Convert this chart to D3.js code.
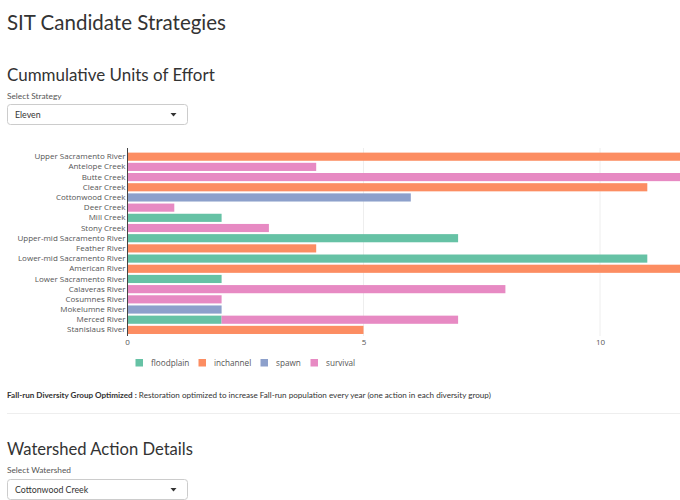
<!DOCTYPE html>
<html><head><meta charset="utf-8">
<script src="https://cdn.jsdelivr.net/npm/d3@7"></script>
<style>
body{margin:0;background:#fff;overflow:hidden}
svg{display:block}
</style></head>
<body>
<svg id="c" width="680" height="500"></svg>
<script>
const watersheds = ["Upper Sacramento River","Antelope Creek","Butte Creek","Clear Creek","Cottonwood Creek","Deer Creek","Mill Creek","Stony Creek","Upper-mid Sacramento River","Feather River","Lower-mid Sacramento River","American River","Lower Sacramento River","Calaveras River","Cosumnes River","Mokelumne River","Merced River","Stanislaus River"];
const actionTypes = ["floodplain","inchannel","spawn","survival"];
const floodplain = [0,0,0,0,0,0,2,0,7,0,11,0,2,0,0,0,2,0];
const inchannel  = [12,0,0,11,0,0,0,0,0,4,0,12,0,0,0,0,0,5];
const spawn      = [0,0,0,0,6,0,0,0,0,0,0,0,0,0,0,2,0,0];
const survival   = [0,4,12,0,0,1,0,3,0,0,0,0,0,8,2,0,5,0];
const xTicks = [0,5,10];
const colors = ["#66c2a5","#fc8d62","#8da0cb","#e78ac3"];

const svg = d3.select("#c");
const hf = "Lato, 'Open Sans', sans-serif";
const cf = "'Open Sans', sans-serif";

// fit a text's font size to a target width (keeps natural glyph shapes)
function fit(sel, width){
  const n = sel.node(); const fs = parseFloat(sel.attr("font-size"));
  const w = n.getComputedTextLength();
  if (w > 0) sel.attr("font-size", (fs*width/w).toFixed(2));
  return sel;
}

// page headers
fit(svg.append("text").attr("x",7).attr("y",30).attr("font-family",hf).attr("font-size",22).attr("fill","#333").text("SIT Candidate Strategies"), 219);
fit(svg.append("text").attr("x",7).attr("y",81).attr("font-family",hf).attr("font-size",18).attr("fill","#333").text("Cummulative Units of Effort"), 208);
svg.append("text").attr("x",7).attr("y",99).attr("font-family",hf).attr("font-size",8.3).attr("fill","#555").text("Select Strategy");
function selectBox(y, label){
  svg.append("rect").attr("x",7.5).attr("y",y+0.5).attr("width",180).attr("height",20).attr("rx",3).attr("fill","#fff").attr("stroke","#ccc");
  svg.append("text").attr("x",15).attr("y",y+14).attr("font-family",hf).attr("font-size",8.8).attr("fill","#333").text(label);
  svg.append("path").attr("d",`M170.5,${y+9} h6 l-3,3.5 z`).attr("fill","#333");
}
selectBox(104,"Eleven");

// chart
const x0 = 127, xScale = d3.scaleLinear().domain([0,12.5]).range([x0, x0+47.3*12.5]);
const yScale = d3.scaleBand().domain(watersheds).range([151.6,335]).paddingInner(0.2).paddingOuter(0.1);

const g = svg.append("g");
g.selectAll("line.grid").data(xTicks.filter(d=>d>0)).join("line")
  .attr("x1",d=>xScale(d)).attr("x2",d=>xScale(d)).attr("y1",148).attr("y2",336)
  .attr("stroke","#eee").attr("stroke-width",1);

const series = [floodplain,inchannel,spawn,survival];
const rows = watersheds.map((w,i)=>{const o={w}; actionTypes.forEach((a,k)=>o[a]=series[k][i]); return o;});
const stacked = d3.stack().keys(actionTypes)(rows);
stacked.forEach((s,k)=>{
  g.selectAll(null).data(s.filter(d=>d[1]>d[0])).join("rect")
    .attr("x",d=>xScale(d[0])).attr("width",d=>xScale(d[1])-xScale(d[0]))
    .attr("y",d=>yScale(d.data.w)).attr("height",yScale.bandwidth())
    .attr("fill",colors[k]);
});
g.append("line").attr("x1",x0+0.5).attr("x2",x0+0.5).attr("y1",148).attr("y2",336).attr("stroke","#444").attr("stroke-width",1);

const yAxis = g.append("g").attr("transform",`translate(${x0},0)`).call(d3.axisLeft(yScale).tickSize(0).tickPadding(1.5));
yAxis.select(".domain").remove();
yAxis.selectAll("text").attr("font-family",cf).attr("font-size",8).attr("font-weight",400).attr("fill","#555");

const xAxis = g.append("g").attr("transform",`translate(0,335.5)`).call(d3.axisBottom(xScale).tickValues(xTicks).tickSize(0).tickPadding(4));
xAxis.select(".domain").remove();
xAxis.selectAll("text").attr("font-family",cf).attr("font-size",8).attr("fill","#555");

// legend
const legX = [135.5,198.5,260.5,310.5];
actionTypes.forEach((a,k)=>{
  svg.append("rect").attr("x",legX[k]).attr("y",359).attr("width",7.5).attr("height",7.5).attr("fill",colors[k]);
  svg.append("text").attr("x",legX[k]+15.5).attr("y",365.5).attr("font-family",cf).attr("font-size",8.2).attr("fill","#555").text(a);
});

// description
const desc = svg.append("text").attr("x",7).attr("y",398).attr("font-family",hf).attr("font-size",8.2).attr("fill","#333");
desc.append("tspan").attr("font-weight","bold").text("Fall-run Diversity Group Optimized :");
desc.append("tspan").text(" Restoration optimized to increase Fall-run population every year (one action in each diversity group)");
fit(desc, 484);
svg.append("line").attr("x1",7).attr("x2",680).attr("y1",413.5).attr("y2",413.5).attr("stroke","#eee");

fit(svg.append("text").attr("x",7).attr("y",455).attr("font-family",hf).attr("font-size",18).attr("fill","#333").text("Watershed Action Details"), 186);
svg.append("text").attr("x",7).attr("y",473).attr("font-family",hf).attr("font-size",8.3).attr("fill","#555").text("Select Watershed");
selectBox(479,"Cottonwood Creek");
</script>
</body></html>
